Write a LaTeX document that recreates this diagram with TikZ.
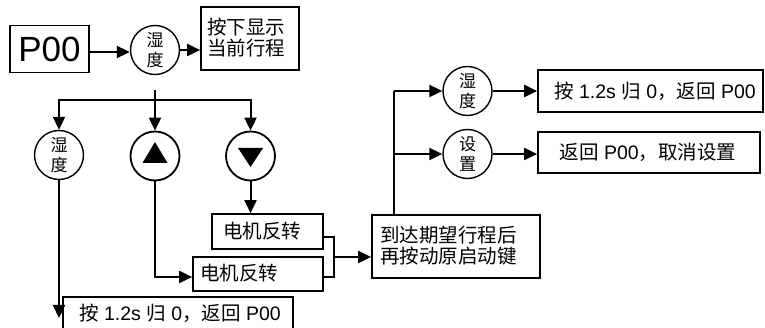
\documentclass[tikz,border=0pt]{standalone}
\usepackage{fontspec}
\setmainfont{Liberation Sans}
\newfontfamily\cjk{Noto Sans CJK SC}[Scale=1]
\usetikzlibrary{arrows.meta,calc}
\begin{document}
\begin{tikzpicture}[x=1pt,y=-1pt,
  line width=2pt,
  arr/.style={-{Triangle[length=13pt,width=12pt]}},
  bx/.style={draw,line width=1.7pt,inner sep=0pt},
  cir/.style={draw,circle,line width=1.4pt,minimum size=49pt,inner sep=0pt},
  ctext/.style={font=\cjk\fontsize{17pt}{19.5pt}\selectfont,align=center,inner sep=0pt},
  btext/.style={font=\fontsize{19.5pt}{21pt}\selectfont,align=left,inner sep=0pt}]
\useasboundingbox (0,0) rectangle (765,328);
% top row
\node[bx,minimum width=79pt,minimum height=47pt,font=\fontsize{35pt}{35pt}\selectfont] (p00) at (49.5,49) {P00};
\node[cir] (c1) at (155,50) {};
\node[ctext] (c1t) at (c1.center) {湿\\度};
\node[bx,minimum width=98pt,minimum height=63pt] (disp) at (250,38.5) {};
\node[btext,anchor=west] (dispt) at (206,38) {\cjk 按下显示\\\cjk 当前行程};
\draw[arr] (p00.east |- 0,52) -- (c1.west |- 0,52);
\draw[arr] (c1.east) -- (disp.west |- c1.east);
% second row
\coordinate (top) at (155,90);
\coordinate (hb) at (155,100);
\node[cir] (c2) at (59,155) {};
\node[ctext] (c2t) at (c2.center) {湿\\度};
\node[cir,line width=1.8pt] (c3) at (155,156) {};
\node[cir,line width=1.8pt] (c4) at (250.5,156) {};
\fill ($(c3.center)+(0,-14)$) -- ++(12.5,21) -- ++(-25,0) -- cycle;
\fill ($(c4.center)+(0,11)$) -- ++(12.5,-19) -- ++(-25,0) -- cycle;
\draw (top) -- (hb);
\draw[arr] (hb) -| (c2.north);
\draw[arr] (hb) -- (c3.north);
\draw[arr] (hb) -| (c4.north);
% boxes below
\node[bx,minimum width=230pt,minimum height=34pt] (b1) at (178,314) {};
\node[btext] (b1t) at (180,313) {{\cjk 按} 1.2s {\cjk 归} 0{\cjk ，返回} P00};
\draw[arr] (c2.south) -- (c2.south |- 0,318);
\node[bx,minimum width=111pt,minimum height=35pt] (b2) at (267.5,231.5) {};
\node[btext,anchor=west] (b2t) at (222,231) {\cjk 电机反转};
\node[bx,minimum width=130pt,minimum height=34pt] (b3) at (258,274) {};
\node[btext,anchor=west] (b3t) at (199,273) {\cjk 电机反转};
\draw[arr] (c4.south) -- (c4.south |- b2.north);
\coordinate (c3c) at (155,277);
\draw[arr] (c3.south) -- (c3c) -- (b3.west |- c3c);
\coordinate (mg) at (334,257);
\draw (b2.east |- 0,237) -| (mg) |- (b3.east |- 0,277);
\node[bx,minimum width=168pt,minimum height=63pt] (b4) at (456,246.5) {};
\node[btext,anchor=west] (b4t) at (379,246) {\cjk 到达期望行程后\\\cjk 再按动原启动键};
\draw[arr] (mg) -- (b4.west |- mg);
% right part
\coordinate (v) at (394,91);
\coordinate (v2) at (394,154);
\node[cir] (c5) at (467.5,91) {};
\node[ctext] (c5t) at (c5.center) {湿\\度};
\node[cir] (c6) at (467.5,154) {};
\node[ctext] (c6t) at (c6.center) {设\\置};
\draw (b4.north -| v) -- (v);
\draw[arr] (v) -- (c5.west);
\draw[arr] (v2) -- (c6.west);
\node[bx,minimum width=225pt,minimum height=42pt] (r1) at (650.5,91) {};
\node[btext] (r1t) at (655,91) {{\cjk 按} 1.2s {\cjk 归} 0{\cjk ，返回} P00};
\node[bx,minimum width=222pt,minimum height=41pt] (r2) at (649,152.5) {};
\node[btext] (r2t) at (648,152) {{\cjk 返回} P00{\cjk ，取消设置}};
\draw[arr] (c5.east) -- (r1.west);
\draw[arr] (c6.east) -- (r2.west |- c6.east);
\end{tikzpicture}
\end{document}
